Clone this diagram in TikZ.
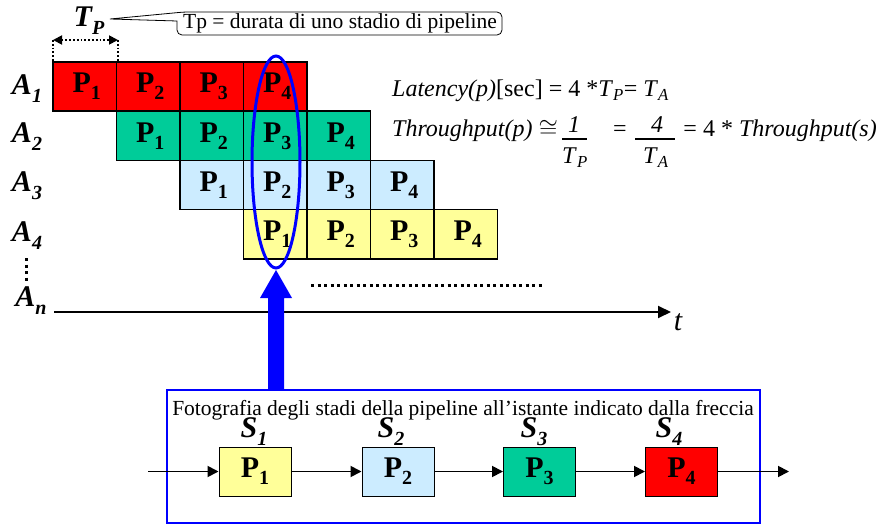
\documentclass[tikz,border=0pt]{standalone}
\usepackage{fontspec}
\setmainfont{Liberation Serif}
\usetikzlibrary{arrows.meta,shapes.geometric}
\definecolor{redP}{HTML}{FF0000}
\definecolor{greenP}{HTML}{00CC99}
\definecolor{blueP}{HTML}{CCECFF}
\definecolor{yellowP}{HTML}{FFFF99}
\definecolor{blueL}{HTML}{0000FF}
\newcommand\pl[1]{{\fontsize{30}{30}\selectfont\bfseries P}\raisebox{-7pt}{\fontsize{20}{20}\selectfont\bfseries #1}}
\newcommand\al[2]{{\fontsize{30}{30}\selectfont\bfseries\itshape #1}\raisebox{-8pt}{\fontsize{20}{20}\selectfont\bfseries\itshape #2}}
\newcommand\fsz{\fontsize{24}{24}\selectfont}
\begin{document}
\begin{tikzpicture}[x=1pt,y=-1pt,
  cell/.style={draw, line width=1.5pt, minimum width=63.5pt, minimum height=49.25pt, inner sep=0pt},
  stagebox/.style={draw, line width=1pt, minimum width=72pt, minimum height=49pt, inner sep=0pt},
  lab/.style={inner sep=0pt},
  flow/.style={line width=1.8pt, -{Triangle[length=11pt,width=11pt]}},
  dotline/.style={line width=3pt, dash pattern=on 3pt off 3.5pt},
  fbar/.style={line width=1.6pt}
]
\useasboundingbox (0,0) rectangle (879,524);

% pipeline grid
\foreach \r/\col in {0/redP,1/greenP,2/blueP,3/yellowP}{
  \foreach \c in {1,...,4}{
    \node[cell, fill=\col] (c\r\c) at ({53+63.5*(\r+\c-0.5)}, {62+49.25*(\r+0.5)}) {\hspace{4pt}\pl{\c}};
  }
}

% row labels
\node[lab] (a1) at (27,89) {\al{A}{1}};
\node[lab] (a2) at (27,137) {\al{A}{2}};
\node[lab] (a3) at (27,186) {\al{A}{3}};
\node[lab] (a4) at (27,236) {\al{A}{4}};
\node[lab] (an) at (31,301) {\al{A}{n}};
\coordinate (vd1) at (26,258);
\coordinate (vd2) at (26,284);
\draw[dotline] (vd1) -- (vd2);

% time axis
\coordinate (ax0) at (54,312);
\coordinate (ax1) at (671,312);
\draw[line width=2pt, -{Triangle[length=13pt,width=12pt]}] (ax0) -- (ax1);
\node[lab] (t) at (678,322) {\fontsize{30}{30}\selectfont\itshape t};
\coordinate (hd1) at (311,285);
\coordinate (hd2) at (545,285);
\draw[dotline] (hd1) -- (hd2);

% T_P marker
\node[lab] (tp) at (89,21) {\al{T}{P}};
\coordinate (tpa) at (53,40);
\coordinate (tpb) at (118,40);
\coordinate (tpa2) at (53,62);
\coordinate (tpb2) at (118,62);
\draw[line width=1.8pt, dotted, {Triangle[length=9pt,width=9pt]}-{Triangle[length=9pt,width=9pt]}] (tpa) -- (tpb);
\draw[line width=1.8pt, dotted] (tpa) -- (tpa2);
\draw[line width=1.8pt, dotted] (tpb) -- (tpb2);

% callout
\draw[line width=0.8pt, fill=white, rounded corners=5pt] (177,28) -- (177,35) -- (502,35) -- (502,12) -- (184,12) [sharp corners] -- (110,19) -- (177,21) [rounded corners=5pt] -- (177,28);
\node[lab] (callout) at (340,23.5) {\fontsize{21.5}{21.5}\selectfont Tp = durata di uno stadio di pipeline};

% formulas
\node[lab, anchor=base west] (lat) at (392,97) {\fsz\textit{Latency(p)}[sec] = 4 *\textit{T}\textsubscript{\textit{P}}= \textit{T}\textsubscript{\textit{A}}};
\node[lab, anchor=base west] (thr) at (392,137) {\fsz\textit{Throughput(p)} $\cong$};
\node[lab, anchor=base] (f1n) at (574,133) {\fsz\textit{1}};
\node[lab, anchor=base] (f1d) at (575,164) {\fsz\textit{T}\textsubscript{\textit{P}}};
\draw[fbar] (562,139) -- (587,139);
\node[lab, anchor=base] (eq1) at (620,137) {\fsz =};
\node[lab, anchor=base] (f2n) at (657,133) {\fsz\textit{4}};
\node[lab, anchor=base] (f2d) at (656,164) {\fsz\textit{T}\textsubscript{\textit{A}}};
\draw[fbar] (635,139) -- (675,139);
\node[lab, anchor=base east] (thr2) at (877,137) {\fsz = 4 * \textit{Throughput(s)}};

% ellipse and big arrow
\node[draw=blueL, line width=3pt, ellipse, minimum width=48pt, minimum height=212pt, inner sep=0pt] (ell) at (276,162) {};
\fill[blueL] (268,390) -- (268,298) -- (260,298) -- (276,270) -- (292,298) -- (284,298) -- (284,390) -- cycle;

% photo box
\node[draw=blueL, line width=2.5pt, minimum width=593pt, minimum height=133pt, inner sep=0pt] (photo) at (463.5,456.5) {};
\node[lab] (title) at (463,410) {\fontsize{21.5}{21.5}\selectfont Fotografia degli stadi della pipeline all’istante indicato dalla freccia};

\node[stagebox, fill=yellowP] (s1) at (255,471.5) {\pl{1}};
\node[stagebox, fill=blueP] (s2) at (398,471.5) {\pl{2}};
\node[stagebox, fill=greenP] (s3) at (539.5,471.5) {\pl{3}};
\node[stagebox, fill=redP] (s4) at (681.5,471.5) {\pl{4}};
\node[lab] (l1) at (254,432) {\al{S}{1}};
\node[lab] (l2) at (391,432) {\al{S}{2}};
\node[lab] (l3) at (534,432) {\al{S}{3}};
\node[lab] (l4) at (669,432) {\al{S}{4}};

\coordinate (in) at (148,471.5);
\coordinate (out) at (789,471.5);
\draw[flow] (in) -- (s1);
\draw[flow] (s1) -- (s2);
\draw[flow] (s2) -- (s3);
\draw[flow] (s3) -- (s4);
\draw[flow] (s4) -- (out);
\end{tikzpicture}
\end{document}
